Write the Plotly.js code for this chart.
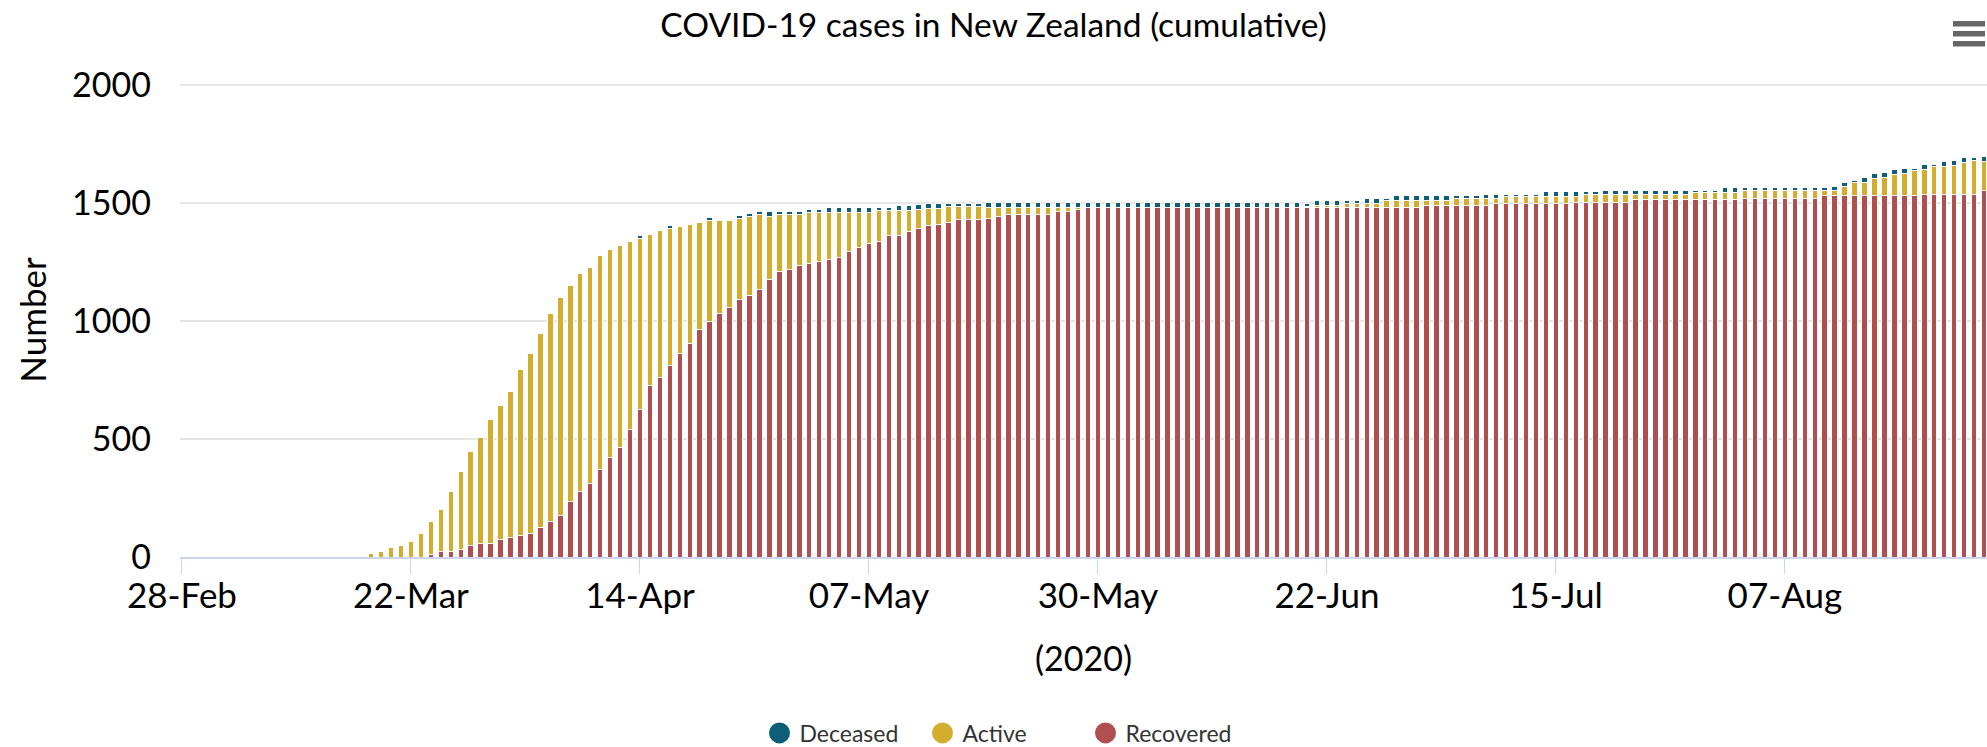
<!DOCTYPE html>
<html>
<head>
<meta charset="utf-8">
<script src="https://cdn.plot.ly/plotly-3.0.1.min.js"></script>
<style>
  html, body { margin: 0; padding: 0; background: #fff; }
  #chart { width: 1987px; height: 747px; }
</style>
</head>
<body>
<div id="chart"></div>
<script>
// ---- Data (cumulative counts, one bar per day from 28-Feb-2020) ----
const startDate = '2020-02-28';
const seriesNames = ['Deceased', 'Active', 'Recovered'];
const seriesColors = ['#0f5e78', '#d5ad2e', '#b04f51'];

const recovered = [
  0,0,0,0,0,0,0,0,0,0, 0,0,0,0,0,0,0,0,0,0, 0,0,0,0,0,
  12,22,22,31,48,56,56,73,82,90, 99,124,150,175,234,277,311,370,421,463, 540,
  624,726,760,811,862,904,963,997,1031,1056, 1090,1107,1133,1175,1209,1218,1234,1243,1251,1260,
  1268,1294,1311,1328,1336,1362,1362,1379,1390,1404, 1411,1419,1429,1429,1429,1436,1444,
  1453,1453,1453,1453,1453,1462,1462,1472,
  1480,1480,1480,1480,1480,1480,1480,1480,1480,1480, 1480,1480,1480,1480,1480,1480,1480,1480,1480,1480,
  1480,1480,1480,1480,1480,1480,1480,1480,1480,1480, 1480,1480,1480,1480,
  1489,1489,1489,1489,1489,1489,1489,
  1497,1497,1497,1497,1497,1497,1497,1497,
  1504,1504,1504,1504,1504,1504,
  1513,1513,1513,1513,1513,1513,1513,1513,1513,1513,1513,
  1521,1521,1521,1521,1521,1521,1521,1521,
  1530,1530,1530,1530,1530,1530,1530,1530,1530,1530,
  1538,1538,1538,1538,1538,1538,
  1555
];

const active = [
  0,0,0,0,0,0,0,0,0,0, 0,0,0,0,0,0,0,0,0,
  14,23,40,48,64,99,
  138,178,255,331,398,450,526,568,619,704, 763,822,881,924,916,924,915,907,881,856, 796,
  726,641,624,581,539,505,455,429,395,370, 344,336,318,267,242,233,217,217,209,199,
  191,165,148,131,132,106,106,89,81,71, 64,65,55,55,55,47,39,30,30,30, 30,30,21,21,11,3,
  3,3,3,3,3,3,3,3,3,3, 3,3,3,3,3,3,3,3,3,3, 3,
  6,11,11,11,20,20,20,20,29,29, 29,29,20,20,20,29,29,29,28,20,
  29,29,29,29,29,29,29,22,31,31, 30,30,30,21,21,21,21,21,21,30,
  30,30,30,30,31,31,31,31,31,31, 31,31,22,21,38,55,55,72,80,89,
  97,106,106,115,115,123,132,141,123
];

const deceased = [
  0,0,0,0,0,0,0,0,0,0, 0,0,0,0,0,0,0,0,0,0, 0,0,0,0,0,0,0,0,0,0,
  0,0,0,0,0,0,0,0,0,0, 0,0,0,0,0,0,
  12,3,3,12,3,3,3,12,3,3, 12,12,12,21,12,12,12,12,12,21,
  21,21,21,21,12,12,21,21,21,21, 21,12,12,12,12,
  21,21,21,21,21,21,21,21,21,21, 21,21,21,21,21,21,21,21,21,21,
  21,21,21,21,21,21,21,21,21,21, 21,21,
  12,21,21,21,12,12,21,21,12,21, 21,21,21,21,21,12,12,12,21,21,
  12,12,12,12,21,21,21,21,12,12, 21,21,21,21,21,21,21,21,21,12,
  12,12,21,21,12,12,12,12,12,12, 12,12,12,21,21,12,21,21,21,21,
  21,12,21,12,21,21,21,12,21
];

const tickStart = '2020-02-28';
const tickStepDays = 23;

// ---- Category dates ----
const dates = [];
(function () {
  const d0 = new Date(startDate + 'T00:00:00Z');
  for (let i = 0; i < recovered.length; i++) {
    const d = new Date(d0.getTime() + i * 86400000);
    dates.push(d.toISOString().slice(0, 10));
  }
})();

const FONT = 'Lato, "Source Sans Pro", "Noto Sans", sans-serif';
const barLine = { color: '#ffffff', width: 1 };

const traces = [
  { type: 'bar', name: 'Recovered', x: dates, y: recovered,
    marker: { color: seriesColors[2], line: barLine }, showlegend: false },
  { type: 'bar', name: 'Active', x: dates, y: active,
    marker: { color: seriesColors[1], line: barLine }, showlegend: false },
  { type: 'bar', name: 'Deceased', x: dates, y: deceased,
    marker: { color: seriesColors[0], line: barLine }, showlegend: false }
];
// legend entries (circle markers)
seriesNames.forEach(function (n, i) {
  traces.push({ type: 'scatter', mode: 'markers', name: n, x: [null], y: [null],
    marker: { color: seriesColors[i], size: 16, symbol: 'circle',
              line: { color: seriesColors[i], width: 6 } },
    showlegend: true, hoverinfo: 'skip' });
});

// hamburger icon helper (paper coords; plot area 180..1987 x 83..557)
function px2x(px) { return (px - 180) / 1807; }
function px2y(py) { return (557 - py) / 474; }
const menuBars = [21, 31, 41].map(function (top) {
  return { type: 'rect', xref: 'paper', yref: 'paper',
    x0: px2x(1953), x1: px2x(1985), y0: px2y(top + 5.5), y1: px2y(top),
    fillcolor: '#666666', line: { width: 0 } };
});

const layout = {
  width: 1987, height: 747,
  margin: { l: 180, r: 0, t: 83, b: 190, autoexpand: false },
  paper_bgcolor: '#ffffff', plot_bgcolor: '#ffffff',
  font: { family: FONT, color: '#000' },
  title: { text: 'COVID-19 cases in New Zealand (cumulative)',
    font: { family: FONT, size: 33.5, color: '#000' },
    x: 0.5, xref: 'container', xanchor: 'center',
    y: 1 - 25 / 747, yref: 'container', yanchor: 'middle', automargin: false },
  barmode: 'stack', bargap: 0.45,
  xaxis: {
    type: 'date', automargin: false,
    range: ['2020-02-27 19:12', '2020-08-27 07:12'],
    tick0: tickStart, dtick: tickStepDays * 86400000, tickformat: '%d-%b',
    ticks: 'outside', ticklen: 15, tickwidth: 1, tickcolor: '#ccd6eb',
    ticklabelstandoff: -8,
    showline: true, linecolor: '#ccd6eb', linewidth: 2,
    showgrid: false, zeroline: false,
    tickfont: { family: FONT, size: 35, color: '#000' },
    title: { text: '(2020)', font: { family: FONT, size: 34, color: '#000' }, standoff: 33 }
  },
  yaxis: {
    range: [0, 2008.5], tick0: 0, dtick: 500, automargin: false,
    showgrid: true, gridcolor: '#e6e6e6', gridwidth: 1.5,
    zeroline: false, showline: false, ticks: '',
    ticklabelstandoff: 28,
    tickfont: { family: FONT, size: 34, color: '#000' },
    title: { text: 'Number', font: { family: FONT, size: 35, color: '#000' }, standoff: 14 }
  },
  legend: {
    orientation: 'h', traceorder: 'normal',
    xref: 'container', x: 1004 / 1987, xanchor: 'center',
    yref: 'container', y: (747 - 733) / 747, yanchor: 'middle',
    entrywidth: 118, entrywidthmode: 'pixels',
    font: { family: FONT, size: 23, color: '#333' },
    itemsizing: 'trace', bgcolor: 'rgba(0,0,0,0)'
  },
  shapes: menuBars,
  hovermode: false
};

Plotly.newPlot('chart', traces, layout, { displayModeBar: false, staticPlot: true });
</script>
</body>
</html>
